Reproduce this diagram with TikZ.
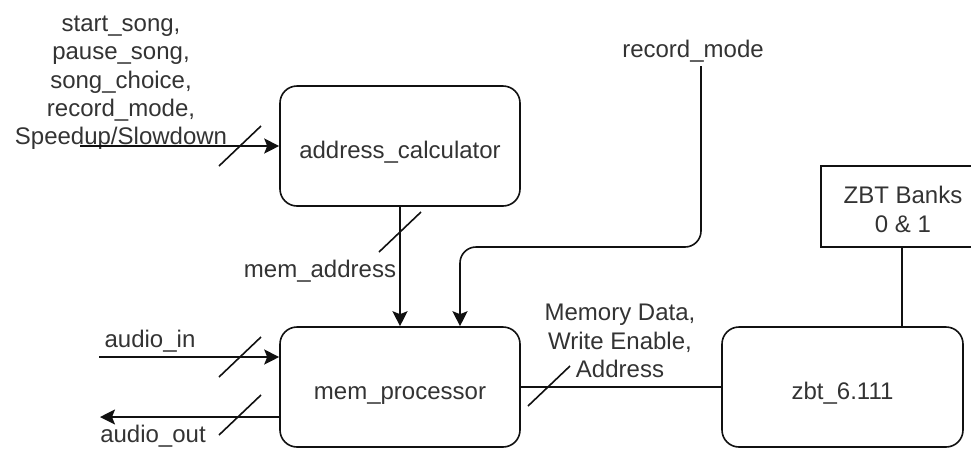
\documentclass[tikz,border=0pt]{standalone}
\usepackage{fontspec}
\setmainfont{Liberation Sans}
\usetikzlibrary{arrows.meta,calc}
\definecolor{inkline}{HTML}{111111}
\definecolor{inktext}{HTML}{333333}
\tikzset{
  wire/.style={draw=inkline, line width=1.6pt},
  arr/.style={wire, -{Stealth[length=15pt, width=15pt, inset=3pt]}},
  blk/.style={wire, rounded corners=17pt, minimum width=240pt, minimum height=120pt,
    text height=24pt, text depth=0pt,
    text=inktext, font=\fontsize{24}{28.3}\selectfont},
  plainblk/.style={wire, minimum width=164pt, minimum height=81pt, align=center,
    text height=51pt, text depth=0pt,
    text=inktext, font=\fontsize{24}{28.3}\selectfont},
  lbl/.style={text=inktext, align=center, inner sep=0pt,
    font=\fontsize{24}{28.3}\selectfont},
}
% bus-width tick across a connector
\newcommand\busmark[1]{\draw[wire] ($(#1)+(-21,20)$) -- ($(#1)+(21,-20)$);}
\begin{document}
\begin{tikzpicture}[x=1pt, y=-1pt]
\useasboundingbox (0,0) rectangle (971,451);
\clip (0,0) rectangle (971,451);

% blocks
\node[blk] (addr) at (400,146) {address\_calculator};
\node[blk] (mem)  at (400,387) {mem\_processor};
\node[blk, minimum width=241pt] (zbt) at (842.5,387) {zbt\_6.111};
\node[plainblk] (banks) at (903,206.5) {ZBT Banks\\0 \& 1};

% labels
\node[lbl] (ctrl) at (121,83) {start\_song,\\pause\_song,\\song\_choice,\\record\_mode,\\Speedup/Slowdown};
\node[lbl] (memaddr) at (320,271) {mem\_address};
\node[lbl] (recmode) at (693,51) {record\_mode};
\node[lbl] (ain) at (150,341) {audio\_in};
\node[lbl] (aout) at (153,436) {audio\_out};
\node[lbl] (zbus) at (620,341) {Memory Data,\\Write Enable,\\Address};

% free connector ends
\coordinate (ctrlin) at (80,146);
\coordinate (ainsrc) at (99,357);
\coordinate (aoutdst) at (100,417);
\coordinate (rmtop) at (701,66);
\coordinate (rmturn) at (460,247);

% connectors
\draw[arr] (ctrlin) -- (addr.west);
\draw[arr] (addr.south) -- (mem.north);
\draw[arr, rounded corners=16pt] (rmtop) |- (rmturn) -- (rmturn |- mem.north);
\draw[arr] (ainsrc) -- (mem.west |- ainsrc);
\draw[arr] (mem.west |- aoutdst) -- (aoutdst);
\draw[wire] (mem.east) -- (zbt.west);
\draw[wire] (banks.south -| 902,0) -- (zbt.north -| 902,0);

% bus ticks
\coordinate (t1) at (240,146);
\coordinate (t2) at (400,232);
\coordinate (t3) at (240,357);
\coordinate (t4) at (240,415);
\coordinate (t5) at (549,386);
\busmark{t1}
\busmark{t2}
\busmark{t3}
\busmark{t4}
\busmark{t5}
\end{tikzpicture}
\end{document}
